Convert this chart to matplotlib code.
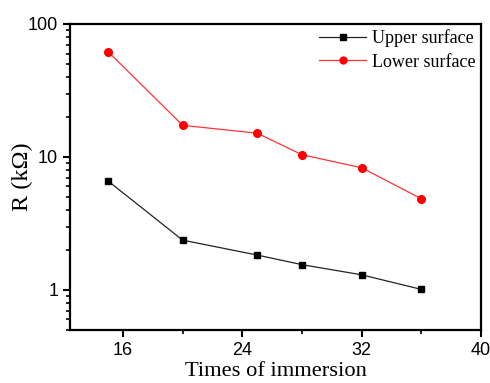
import matplotlib
matplotlib.use('Agg')
import matplotlib.pyplot as plt
from matplotlib.ticker import FixedLocator, LogLocator, NullFormatter

# Data
times = [15, 20, 25, 28, 32, 36]
upper = [6.6, 2.37, 1.83, 1.55, 1.30, 1.01]
lower = [62, 17.3, 15.1, 10.4, 8.3, 4.85]

fig = plt.figure(figsize=(4.9, 3.83), dpi=100)
ax = fig.add_axes([70 / 490, 1 - 330 / 383, 411 / 490, 306 / 383])

ax.plot(times, upper, color='#222222', lw=0.9, marker='s', ms=4.5,
        mfc='black', mec='black', label='Upper surface')
ax.plot(times, lower, color='#ff3333', lw=0.9, marker='o', ms=5.5,
        mfc='red', mec='red', label='Lower surface')

ax.set_yscale('log')
ax.set_ylim(0.5, 100)
ax.set_xlim(12.45, 40)
ax.set_xticks([16, 24, 32, 40])
ax.xaxis.set_minor_locator(FixedLocator([20, 28, 36]))
ax.yaxis.set_minor_locator(LogLocator(base=10, subs=range(2, 10)))
ax.yaxis.set_minor_formatter(NullFormatter())
ax.set_yticks([1, 10, 100])
ax.set_yticklabels(['1', '10', '100'])

for s in ax.spines.values():
    s.set_linewidth(1.6)
ax.tick_params(which='major', direction='out', length=5, width=1.5,
               labelsize=13, top=False, right=False)
ax.tick_params(which='minor', direction='out', length=3, width=1.2,
               top=False, right=False)
for lab in ax.get_xticklabels() + ax.get_yticklabels():
    lab.set_family('Liberation Sans')

ax.set_xlabel('Times of immersion', family='Liberation Serif', fontsize=16.2, labelpad=2)
ax.set_ylabel('R (k\u03a9)', family='Liberation Serif', fontsize=17.5, labelpad=-4)

ax.legend(loc='upper right', bbox_to_anchor=(1.008, 1.012), frameon=False,
          prop={'family': 'Liberation Serif', 'size': 13},
          handlelength=2.6, handletextpad=0.3, labelspacing=0.35,
          borderaxespad=0.1, markerscale=0.9)

fig.savefig('out.png', dpi=100)
